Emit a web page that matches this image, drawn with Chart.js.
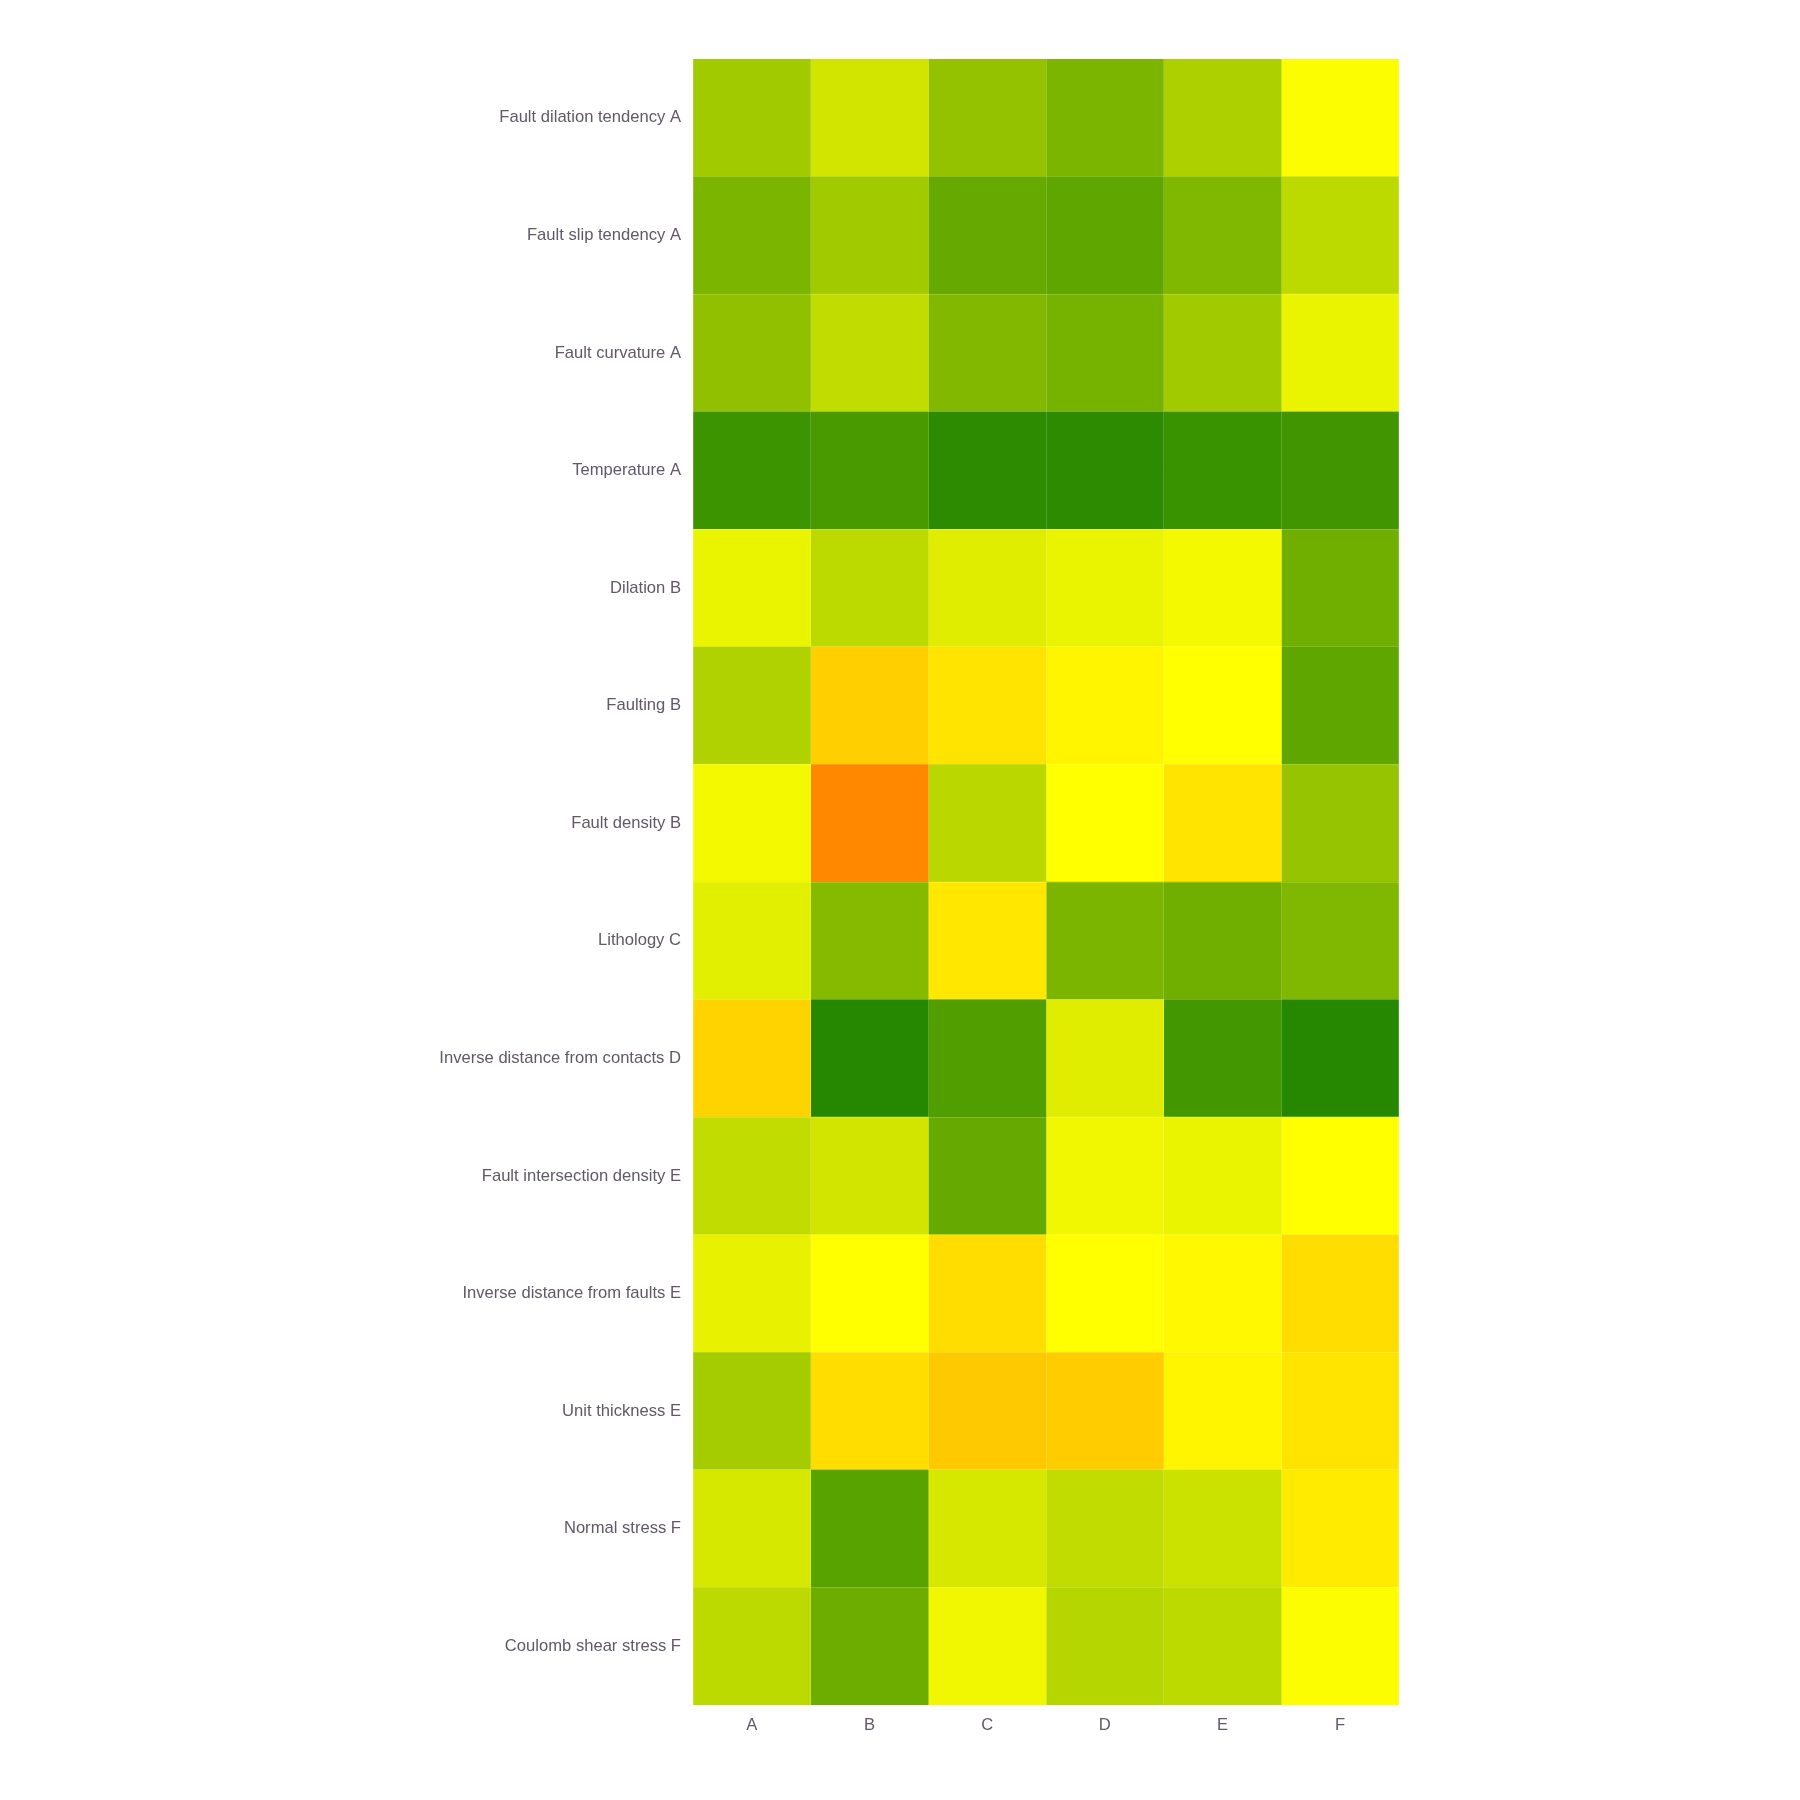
<!DOCTYPE html>
<html>
<head>
<meta charset="utf-8">
<script src="https://cdn.jsdelivr.net/npm/chart.js@4"></script>
<style>
  html, body { margin: 0; padding: 0; background: #ffffff; }
  #wrap { width: 1800px; height: 1800px; }
</style>
</head>
<body>
<div id="wrap"><canvas id="heat" width="1800" height="1800"></canvas></div>
<script>
// heatmap of evidence layers vs. scenario columns

const rowLabels = [
    'Fault dilation tendency A', 'Fault slip tendency A', 'Fault curvature A', 'Temperature A',
    'Dilation B', 'Faulting B', 'Fault density B', 'Lithology C',
    'Inverse distance from contacts D', 'Fault intersection density E',
    'Inverse distance from faults E', 'Unit thickness E', 'Normal stress F', 'Coulomb shear stress F'
];
const colLabels = ['A', 'B', 'C', 'D', 'E', 'F'];

// one array per column, values top row first (0 = dark green, 65 = yellow, 100 = orange)
const valuesA = [38, 27, 33, 7, 59, 42, 62, 57, 78, 47, 58, 39, 53, 46];
const valuesB = [52, 38, 47, 11, 46, 79, 100, 30, 0, 52, 65, 75, 16, 22];
const valuesC = [34, 20, 29, 2, 56, 73, 45, 72, 13, 20, 75, 81, 53, 61];
const valuesD = [27, 18, 25, 2, 59, 68, 65, 27, 56, 61, 65, 80, 47, 44];
const valuesE = [41, 28, 38, 6, 62, 65, 73, 23, 9, 59, 67, 68, 50, 46];
const valuesF = [64, 46, 59, 8, 23, 18, 35, 28, 0, 65, 75, 73, 71, 64];

const columns = [valuesA, valuesB, valuesC, valuesD, valuesE, valuesF];

// --- colour scale ---
const stops = [
    [0, [38, 136, 0]],
    [30, [134, 186, 0]],
    [65, [255, 255, 0]],
    [100, [255, 136, 0]]
];

function colorFor(v) {
    for (let i = 1; i < stops.length; i++) {
        if (v <= stops[i][0]) {
            const [v0, c0] = stops[i - 1];
            const [v1, c1] = stops[i];
            const t = (v - v0) / (v1 - v0);
            const c = c0.map((x, k) => Math.round(x + (c1[k] - x) * t));
            return `rgb(${c[0]}, ${c[1]}, ${c[2]})`;
        }
    }
    const c = stops[stops.length - 1][1];
    return `rgb(${c[0]}, ${c[1]}, ${c[2]})`;
}

const textColor = '#625867';
const fontFamily = '"Liberation Sans", Arial, Helvetica, sans-serif';
const cellLine = 'rgba(255, 255, 255, 0.18)';

const datasets = columns.map((vals, i) => ({
    label: colLabels[i],
    data: vals.map(() => 1),
    backgroundColor: vals.map(colorFor),
    borderWidth: 0,
    barPercentage: 1,
    categoryPercentage: 1
}));

const ctx = document.getElementById('heat').getContext('2d');

new Chart(ctx, {
    type: 'bar',
    data: { labels: rowLabels, datasets: datasets },
    options: {
        indexAxis: 'y',
        responsive: false,
        animation: false,
        layout: { padding: { left: 0, right: 401, top: 59, bottom: 0 } },
        scales: {
            x: {
                type: 'linear',
                stacked: true,
                min: 0,
                max: colLabels.length,
                display: false
            },
            cols: {
                type: 'category',
                labels: colLabels,
                position: 'bottom',
                offset: true,
                grid: { display: true, offset: true, color: cellLine, drawTicks: false, z: 1 },
                border: { display: false },
                ticks: {
                    color: textColor,
                    padding: 10,
                    font: { family: fontFamily, size: 16.6 }
                },
                afterFit: (scale) => { scale.height = 95; }
            },
            y: {
                stacked: true,
                grid: { display: true, offset: true, color: cellLine, drawTicks: false, z: 1 },
                border: { display: false },
                ticks: {
                    color: textColor,
                    padding: 12,
                    font: { family: fontFamily, size: 16.6 }
                },
                afterFit: (scale) => { scale.width = 693; }
            }
        },
        plugins: {
            legend: { display: false },
            tooltip: { enabled: false }
        }
    }
});
</script>
</body>
</html>
